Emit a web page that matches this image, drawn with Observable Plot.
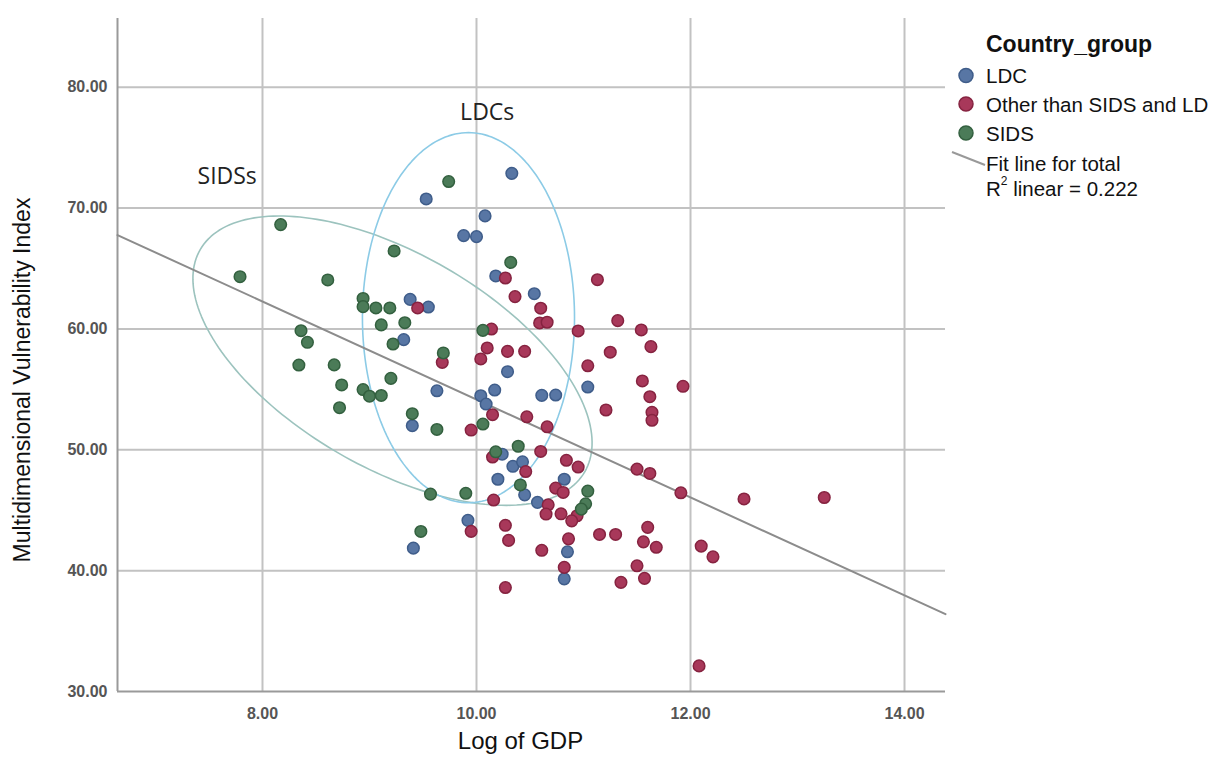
<!DOCTYPE html>
<html>
<head>
<meta charset="utf-8">
<script src="https://cdn.jsdelivr.net/npm/d3@7"></script>
<script src="https://cdn.jsdelivr.net/npm/@observablehq/plot@0.6"></script>
<style>
html, body { margin: 0; padding: 0; background: #fff; overflow: hidden; }
#wrap { position: relative; width: 1212px; height: 765px; font-family: "Liberation Sans", Arial, sans-serif; }
#chart { position: absolute; left: 0; top: 0; }
#legend { position: absolute; left: 0; top: 0; }
</style>
</head>
<body>
<div id="wrap"><div id="chart"></div><div id="legend"></div></div>
<script>
// ---- Data ----
const groupNames = ["LDC", "Other than SIDS and LD", "SIDS"];
const groupFill = ["#5876a4", "#a8385a", "#4b7b58"];
const groupStroke = ["#3f5d8a", "#862340", "#33603f"];

// [Log of GDP, Multidimensional Vulnerability Index]
const ldcPoints = [
  [10.33,72.87],[9.53,70.75],[10.08,69.35],[9.88,67.72],[10.00,67.63],[10.18,64.38],[10.54,62.91],
  [9.38,62.44],[9.55,61.81],[9.32,59.11],[10.29,56.46],[9.63,54.88],[10.17,54.94],[10.04,54.47],
  [10.09,53.78],[10.61,54.50],[10.74,54.53],[11.04,55.19],[9.40,51.99],[10.24,49.63],[10.34,48.63],
  [10.43,49.00],[10.20,47.56],[10.82,47.56],[10.45,46.27],[10.57,45.65],[9.92,44.16],[9.41,41.86],
  [10.85,41.56],[10.82,39.32]
];
const otherPoints = [
  [9.45,61.73],[9.68,57.23],[10.27,64.21],[11.13,64.07],[10.36,62.67],[10.60,61.71],[10.59,60.49],
  [10.66,60.55],[11.32,60.68],[10.95,59.83],[11.54,59.91],[10.14,59.99],[11.63,58.53],[11.25,58.07],
  [10.10,58.42],[10.04,57.51],[10.29,58.14],[10.45,58.14],[11.04,56.95],[11.55,55.69],[11.93,55.25],
  [11.62,54.39],[11.21,53.29],[11.64,53.10],[11.64,52.44],[10.47,52.73],[10.66,51.90],[10.15,52.90],
  [9.95,51.63],[10.60,49.86],[10.15,49.40],[10.46,48.20],[10.84,49.13],[10.95,48.57],[11.50,48.40],
  [11.62,48.04],[11.91,46.44],[12.50,45.93],[13.25,46.05],[10.74,46.83],[10.81,46.47],[10.16,45.84],
  [10.67,45.45],[10.65,44.68],[10.79,44.70],[10.94,44.54],[10.89,44.12],[9.95,43.25],[10.27,43.75],
  [10.30,42.50],[10.61,41.68],[10.86,42.63],[10.82,40.27],[11.15,42.99],[11.30,42.99],[11.60,43.58],
  [11.56,42.38],[11.68,41.93],[11.50,40.40],[11.35,39.03],[11.57,39.36],[12.10,42.03],[12.21,41.14],
  [10.27,38.60],[12.08,32.12]
];
const sidsPoints = [
  [9.74,72.19],[8.17,68.63],[10.32,65.50],[9.23,66.45],[7.79,64.32],[8.61,64.05],[8.94,62.52],
  [8.94,61.84],[9.06,61.73],[9.19,61.73],[9.11,60.33],[9.33,60.51],[9.22,58.75],[9.69,58.01],
  [10.06,59.88],[8.36,59.85],[8.42,58.89],[8.34,57.01],[8.67,57.02],[8.74,55.36],[9.20,55.91],
  [8.94,54.98],[9.00,54.43],[9.11,54.49],[8.72,53.48],[9.40,52.98],[9.63,51.68],[10.06,52.13],
  [10.39,50.29],[10.18,49.83],[10.41,47.09],[11.04,46.58],[11.02,45.53],[10.98,45.09],[9.90,46.40],
  [9.57,46.33],[9.48,43.24]
];

// Fit line for total (end points), R² = 0.222
const fitLine = [[6.645, 67.76], [14.383, 36.4]];
const r2Value = "0.222";

// Axis ticks and extents
const xTicks = [8, 10, 12, 14];
const yTicks = [30, 40, 50, 60, 70, 80];
const xDomain = [6.645, 14.383];
const yDomain = [30, 85.68];

// Hand-drawn annotation ellipses: centre + two conjugate semi-axis vectors (data units)
const ellipses = [
  {name: "SIDSs", cx: 9.215, cy: 57.37, ax: 1.797, ay: -9.19, bx: -0.50, by: -7.67, color: "#9cc3be"},
  {name: "LDCs",  cx: 9.925, cy: 60.93, ax: 0.991, ay: 0,     bx: 0,     by: 15.31, color: "#8ccbe6"}
];
const annotations = [
  {text: "SIDSs", x: 7.67, y: 72.6},
  {text: "LDCs",  x: 10.10, y: 77.9}
];

// ---- Build ----
function ellipsePath(e) {
  const pts = [];
  for (let i = 0; i <= 200; i++) {
    const t = 2 * Math.PI * i / 200;
    pts.push({x: e.cx + Math.cos(t) * e.ax + Math.sin(t) * e.bx,
              y: e.cy + Math.cos(t) * e.ay + Math.sin(t) * e.by, name: e.name, color: e.color});
  }
  return pts;
}
const fmt = d3.format(".2f");
const groupPoints = [ldcPoints, otherPoints, sidsPoints];

const chart = Plot.plot({
  width: 960,
  height: 765,
  marginLeft: 117,
  marginRight: 15,
  marginTop: 18,
  marginBottom: 74,
  style: {fontFamily: "'Liberation Sans', Arial, sans-serif", background: "#fff", overflow: "visible"},
  x: {domain: xDomain},
  y: {domain: yDomain},
  marks: [
    Plot.gridX(xTicks, {stroke: "#c2c2c2", strokeOpacity: 1, strokeWidth: 2}),
    Plot.gridY(yTicks.filter(d => d > 30), {stroke: "#c2c2c2", strokeOpacity: 1, strokeWidth: 2}),
    Plot.ruleX([xDomain[0]], {stroke: "#9a9a9a", strokeWidth: 2}),
    Plot.ruleY([yDomain[0]], {stroke: "#9a9a9a", strokeWidth: 2}),
    Plot.axisX(xTicks, {tickSize: 0, tickPadding: 16, tickFormat: fmt, fontSize: 16, fill: "#555", fontWeight: "bold", label: null}),
    Plot.axisY(yTicks, {tickSize: 0, tickPadding: 10, tickFormat: fmt, fontSize: 16, fill: "#555", fontWeight: "bold", label: null}),
    ...ellipses.map(e => Plot.line(ellipsePath(e), {x: "x", y: "y", stroke: e.color, strokeWidth: 1.6})),
    Plot.line(fitLine, {x: d => d[0], y: d => d[1], stroke: "#8c8c8c", strokeWidth: 2}),
    ...groupPoints.map((pts, i) => Plot.dot(pts, {x: d => d[0], y: d => d[1], r: 5.8, fill: groupFill[i], stroke: groupStroke[i], strokeWidth: 1.5})),
    Plot.text(annotations, {x: "x", y: "y", text: "text", fontSize: 23, fontFamily: "'Open Sans', sans-serif", fill: "#222"}),
    Plot.text(["Log of GDP"], {frameAnchor: "bottom", dx: -11, dy: 57, fontSize: 24, fill: "#111"}),
    Plot.text(["Multidimensional Vulnerability Index"], {frameAnchor: "left", textAnchor: "middle", rotate: -90, dx: -95, dy: 25, fontSize: 23, fill: "#111"})
  ]
});
document.getElementById("chart").appendChild(chart);

// ---- Legend (right side) ----
const ns = "http://www.w3.org/2000/svg";
const lg = document.createElementNS(ns, "svg");
lg.setAttribute("width", 1212);
lg.setAttribute("height", 765);
lg.style.fontFamily = "'Liberation Sans', Arial, sans-serif";
function el(tag, attrs, text) {
  const e = document.createElementNS(ns, tag);
  for (const k in attrs) e.setAttribute(k, attrs[k]);
  if (text != null) e.textContent = text;
  lg.appendChild(e);
  return e;
}
el("text", {x: 986, y: 44, "dominant-baseline": "central", "font-size": 23, "font-weight": "bold", fill: "#111"}, "Country_group");
const rowY = [75.5, 104, 133];
groupNames.forEach((name, i) => {
  el("circle", {cx: 966, cy: rowY[i], r: 7, fill: groupFill[i], stroke: groupStroke[i], "stroke-width": 1.5});
  el("text", {x: 986, y: rowY[i], "dominant-baseline": "central", "font-size": 20.5, fill: "#111"}, name);
});
el("line", {x1: 952, y1: 152, x2: 985, y2: 165, stroke: "#999", "stroke-width": 2});
el("text", {x: 986, y: 163, "dominant-baseline": "central", "font-size": 20.5, fill: "#111"}, "Fit line for total");
const r2 = el("text", {x: 986, y: 188, "dominant-baseline": "central", "font-size": 20.5, fill: "#111"});
const t1 = document.createElementNS(ns, "tspan"); t1.textContent = "R"; r2.appendChild(t1);
const t2 = document.createElementNS(ns, "tspan"); t2.textContent = "2"; t2.setAttribute("font-size", 12); t2.setAttribute("dy", -7); r2.appendChild(t2);
const t3 = document.createElementNS(ns, "tspan"); t3.textContent = " linear = " + r2Value; t3.setAttribute("dy", 7); r2.appendChild(t3);
document.getElementById("legend").appendChild(lg);
</script>
</body>
</html>
